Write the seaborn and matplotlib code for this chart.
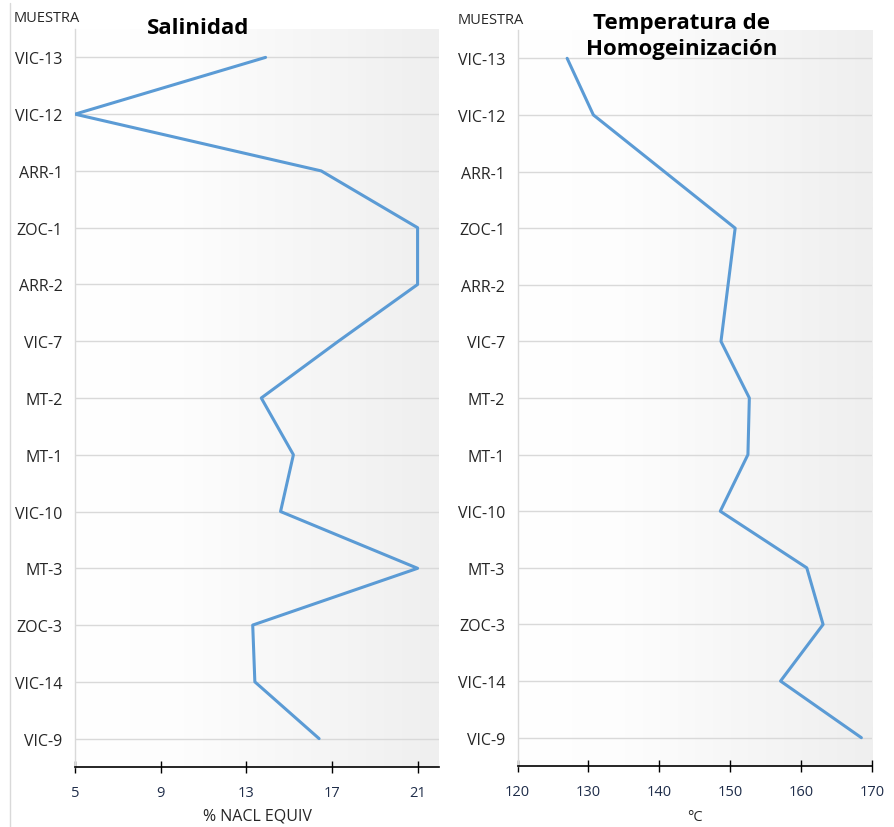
import numpy as np
import pandas as pd
import matplotlib
matplotlib.use("Agg")
import matplotlib.pyplot as plt
import seaborn as sns

# Sample identifiers, top to bottom
muestras = ["VIC-13", "VIC-12", "ARR-1", "ZOC-1", "ARR-2", "VIC-7", "MT-2",
            "MT-1", "VIC-10", "MT-3", "ZOC-3", "VIC-14", "VIC-9"]

# Salinity (% NaCl equiv.)
salinidad = [13.9, 5.0, 16.5, 21.0, 21.0, 17.3, 13.7, 15.2, 14.6, 21.0, 13.3, 13.4, 16.4]

# Homogenization temperature (°C)
temperatura = [127.0, 130.7, 140.7, 150.7, 149.7, 148.7, 152.7, 152.5, 148.6,
               160.8, 163.1, 157.1, 168.5]

sal_ticks = [5, 9, 13, 17, 21]
temp_ticks = [120, 130, 140, 150, 160, 170]

sns.set_theme(style="white")
plt.rcParams["font.family"] = ["Open Sans", "DejaVu Sans"]

LINE = "#5B9BD5"
GRID = "#d9d9d9"
TXT = "#262626"

df = pd.DataFrame({
    "pos": np.arange(len(muestras)),
    "muestra": muestras,
    "sal": salinidad,
    "temp": temperatura,
})

fig = plt.figure(figsize=(8.95, 8.28), dpi=100)
ax1 = fig.add_axes([75 / 895, 1 - 768 / 828, (439 - 75) / 895, (768 - 30) / 828])
ax2 = fig.add_axes([517.5 / 895, 1 - 767 / 828, (872 - 517.5) / 895, (767 - 31) / 828])

grad = np.linspace(0, 1, 256)[None, :]
cmap = matplotlib.colors.LinearSegmentedColormap.from_list(
    "bg", [(0.0, "#ffffff"), (0.3, "#fdfdfd"), (1.0, "#efefef")])


def panel(ax, col, xlim, ticks, xlabel, label_y, label_size):
    ax.imshow(grad, cmap=cmap, extent=[0, 1, 0, 1], transform=ax.transAxes,
              aspect="auto", zorder=0)
    for p in df["pos"]:
        ax.axhline(p, color=GRID, lw=1.0, zorder=1)
    sns.lineplot(data=df, x=col, y="pos", sort=False, orient="y",
                 color=LINE, lw=2.2, ax=ax, zorder=3)
    ax.set_xlim(*xlim)
    ax.set_ylim(len(muestras) - 0.5, -0.5)
    ax.set_yticks(df["pos"])
    ax.set_yticklabels(muestras)
    ax.set_xticks(ticks)
    ax.set_xticklabels([str(t) for t in ticks])
    ax.tick_params(axis="y", length=0, pad=9, labelsize=11.5, labelcolor=TXT)
    ax.tick_params(axis="x", direction="inout", length=8, width=1.0,
                   color="#000000", pad=9, labelsize=10.5, labelcolor="#1f2d4a",
                   bottom=True)
    for s in ("top", "right"):
        ax.spines[s].set_visible(False)
    ax.spines["left"].set_color(GRID)
    ax.spines["left"].set_linewidth(1.0)
    ax.spines["bottom"].set_color("#000000")
    ax.spines["bottom"].set_linewidth(1.2)
    ax.set_xlabel(xlabel, fontsize=label_size, color=TXT)
    ax.xaxis.set_label_coords(0.5, label_y)
    ax.xaxis.label.set_va("center")
    ax.set_ylabel("")


panel(ax1, "sal", (5, 22), sal_ticks, "% NACL EQUIV", -0.066, 11.5)
panel(ax2, "temp", (120, 170), temp_ticks, "°C", -0.069, 10.5)

fig.text(198 / 895, 1 - 29 / 828, "Salinidad", ha="center", va="center",
         fontsize=16, fontweight="bold", color="#000000")
fig.text(682 / 895, 1 - 36.5 / 828, "Temperatura de\nHomogeinización",
         ha="center", va="center", fontsize=16, fontweight="bold",
         color="#000000", linespacing=1.3)
fig.text(14 / 895, 1 - 18 / 828, "MUESTRA", ha="left", va="center",
         fontsize=10.5, color=TXT)
fig.text(458 / 895, 1 - 20 / 828, "MUESTRA", ha="left", va="center",
         fontsize=10.5, color=TXT)

# thin chart border on the left
fig.add_artist(plt.Line2D([10 / 895, 10 / 895], [0, 0.995],
                          transform=fig.transFigure, color=GRID, lw=1.0))

fig.savefig("out.png", dpi=100)
